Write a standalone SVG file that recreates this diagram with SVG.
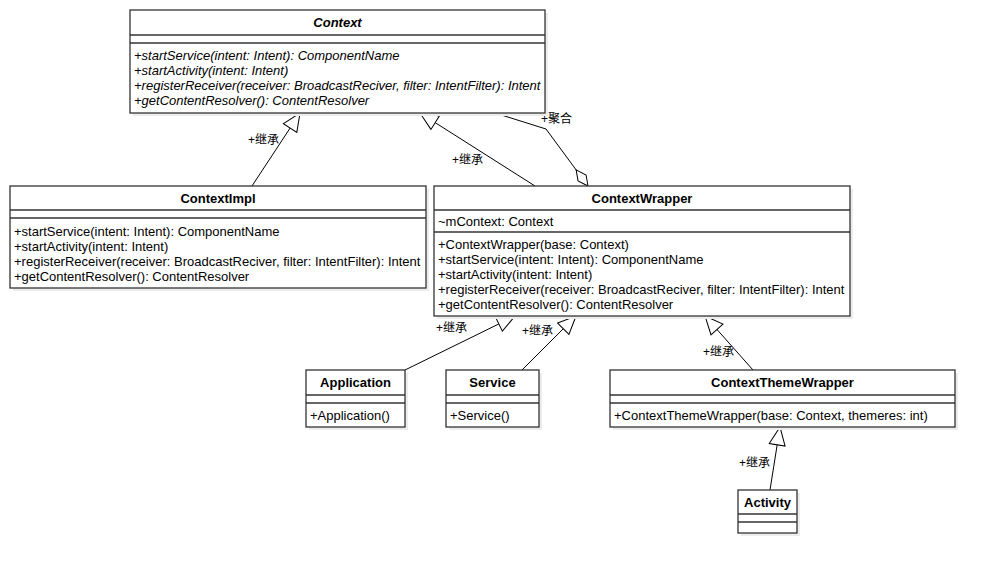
<svg xmlns="http://www.w3.org/2000/svg" width="995" height="574" viewBox="0 0 995 574">
<defs>
<style>
.box{fill:#fff;stroke:#333;stroke-width:1.3}
.sh{fill:#ececec}
.ln{stroke:#333;stroke-width:1.3}
.t{font-family:"Liberation Sans","Noto Sans CJK SC",sans-serif;font-size:13px;fill:#000}
.l{font-size:12px}
.b{font-weight:bold}
.i{font-style:italic}
.c{stroke:#000;stroke-width:1;fill:none}
</style>
<marker id="tri" markerUnits="userSpaceOnUse" markerWidth="20" markerHeight="18" viewBox="0 0 20 18" refX="19" refY="9" orient="auto">
<path d="M1,1 L19,9 L1,17 Z" fill="#fff" stroke="#000" stroke-width="1"/>
</marker>
<marker id="dia" markerUnits="userSpaceOnUse" markerWidth="22" markerHeight="12" viewBox="0 0 22 12" refX="21" refY="6" orient="auto">
<path d="M1,6 L11,1 L21,6 L11,11 Z" fill="#fff" stroke="#000" stroke-width="1"/>
</marker>
</defs>
<rect width="995" height="574" fill="#fff"/>

<g id="connectors">
<line class="c" x1="252" y1="186" x2="300" y2="113" marker-end="url(#tri)"/>
<text class="t l" x="248" y="144">+继承</text>
<line class="c" x1="535" y1="186" x2="420" y2="113" marker-end="url(#tri)"/>
<text class="t l" x="452" y="164">+继承</text>
<polyline class="c" points="495,113 546,129 588,186" marker-end="url(#dia)"/>
<text class="t l" x="541" y="123">+聚合</text>
<line class="c" x1="405" y1="370" x2="515" y2="316" marker-end="url(#tri)"/>
<text class="t l" x="436" y="332">+继承</text>
<line class="c" x1="522" y1="370" x2="576" y2="316" marker-end="url(#tri)"/>
<text class="t l" x="522" y="335">+继承</text>
<line class="c" x1="753" y1="370" x2="705" y2="316" marker-end="url(#tri)"/>
<text class="t l" x="703" y="356">+继承</text>
<line class="c" x1="770" y1="490" x2="780" y2="427" marker-end="url(#tri)"/>
<text class="t l" x="739" y="467">+继承</text>
</g>

<g id="Context">
<rect class="sh" x="133" y="13" width="415" height="103"/>
<rect class="box" x="130" y="10" width="415" height="103"/>
<line class="ln" x1="130" y1="35" x2="545" y2="35"/>
<line class="ln" x1="130" y1="43" x2="545" y2="43"/>
<text class="t b i" x="337.5" y="27" text-anchor="middle">Context</text>
<text class="t i" x="134" y="60">+startService(intent: Intent): ComponentName</text>
<text class="t i" x="134" y="75">+startActivity(intent: Intent)</text>
<text class="t i" x="134" y="90">+registerReceiver(receiver: BroadcastReciver, filter: IntentFilter): Intent</text>
<text class="t i" x="134" y="105">+getContentResolver(): ContentResolver</text>
</g>

<g id="ContextImpl">
<rect class="sh" x="13" y="189" width="416" height="102"/>
<rect class="box" x="10" y="186" width="416" height="102"/>
<line class="ln" x1="10" y1="210" x2="426" y2="210"/>
<line class="ln" x1="10" y1="218" x2="426" y2="218"/>
<text class="t b" x="218" y="203" text-anchor="middle">ContextImpl</text>
<text class="t" x="14" y="236">+startService(intent: Intent): ComponentName</text>
<text class="t" x="14" y="251">+startActivity(intent: Intent)</text>
<text class="t" x="14" y="266">+registerReceiver(receiver: BroadcastReciver, filter: IntentFilter): Intent</text>
<text class="t" x="14" y="281">+getContentResolver(): ContentResolver</text>
</g>

<g id="ContextWrapper">
<rect class="sh" x="437" y="189" width="416" height="130"/>
<rect class="box" x="434" y="186" width="416" height="130"/>
<line class="ln" x1="434" y1="210" x2="850" y2="210"/>
<line class="ln" x1="434" y1="232" x2="850" y2="232"/>
<text class="t b" x="642" y="203" text-anchor="middle">ContextWrapper</text>
<text class="t" x="438" y="226">~mContext: Context</text>
<text class="t" x="438" y="249">+ContextWrapper(base: Context)</text>
<text class="t" x="438" y="264">+startService(intent: Intent): ComponentName</text>
<text class="t" x="438" y="279">+startActivity(intent: Intent)</text>
<text class="t" x="438" y="294">+registerReceiver(receiver: BroadcastReciver, filter: IntentFilter): Intent</text>
<text class="t" x="438" y="309">+getContentResolver(): ContentResolver</text>
</g>

<g id="Application">
<rect class="sh" x="309" y="373" width="99" height="57"/>
<rect class="box" x="306" y="370" width="99" height="57"/>
<line class="ln" x1="306" y1="395" x2="405" y2="395"/>
<line class="ln" x1="306" y1="403" x2="405" y2="403"/>
<text class="t b" x="355.5" y="387" text-anchor="middle">Application</text>
<text class="t" x="310" y="420">+Application()</text>
</g>

<g id="Service">
<rect class="sh" x="449" y="373" width="93" height="57"/>
<rect class="box" x="446" y="370" width="93" height="57"/>
<line class="ln" x1="446" y1="395" x2="539" y2="395"/>
<line class="ln" x1="446" y1="403" x2="539" y2="403"/>
<text class="t b" x="492.5" y="387" text-anchor="middle">Service</text>
<text class="t" x="450" y="420">+Service()</text>
</g>

<g id="ContextThemeWrapper">
<rect class="sh" x="613" y="373" width="345" height="57"/>
<rect class="box" x="610" y="370" width="345" height="57"/>
<line class="ln" x1="610" y1="395" x2="955" y2="395"/>
<line class="ln" x1="610" y1="403" x2="955" y2="403"/>
<text class="t b" x="782.5" y="387" text-anchor="middle">ContextThemeWrapper</text>
<text class="t" x="614" y="420">+ContextThemeWrapper(base: Context, themeres: int)</text>
</g>

<g id="Activity">
<rect class="sh" x="741" y="493" width="59" height="43"/>
<rect class="box" x="738" y="490" width="59" height="43"/>
<line class="ln" x1="738" y1="514" x2="797" y2="514"/>
<line class="ln" x1="738" y1="522" x2="797" y2="522"/>
<text class="t b" x="767.5" y="507" text-anchor="middle">Activity</text>
</g>
</svg>
